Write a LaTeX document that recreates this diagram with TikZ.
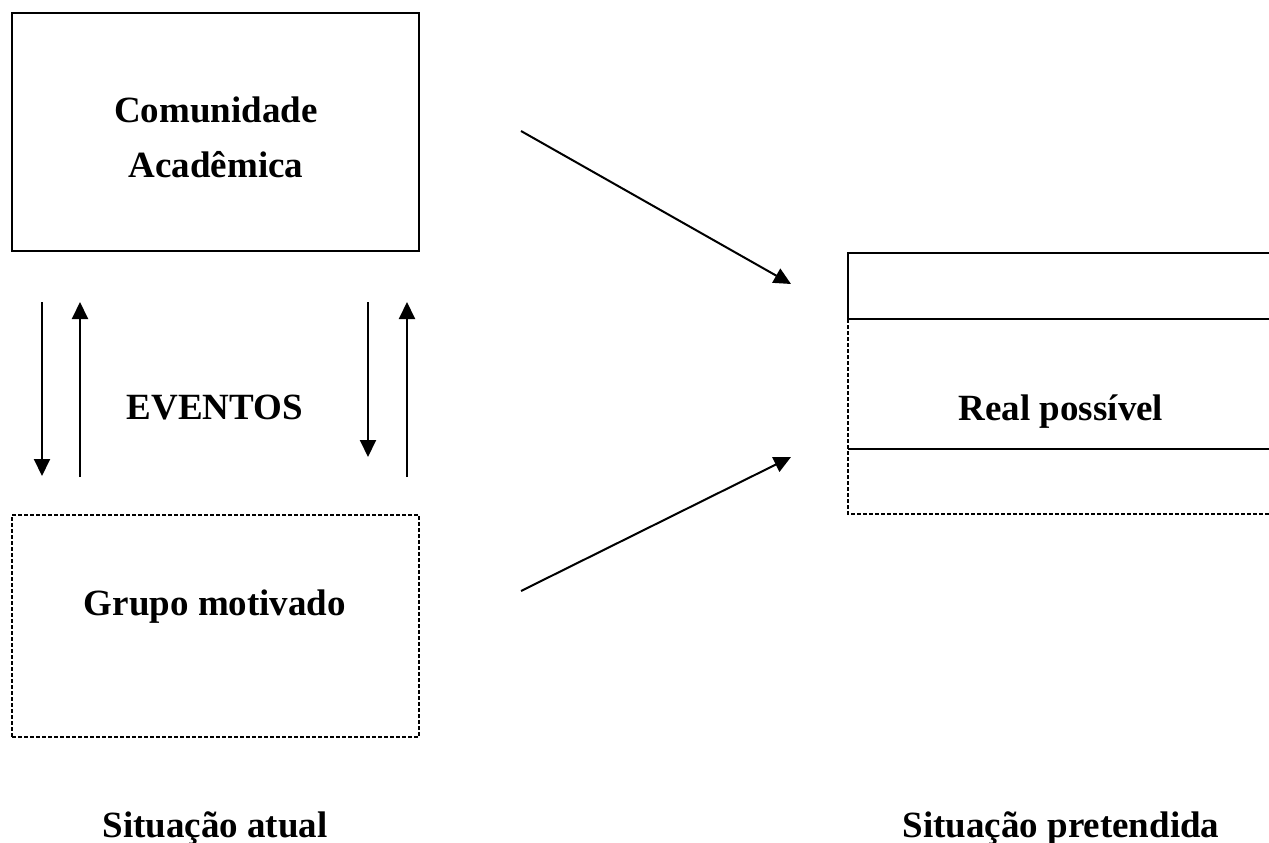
\documentclass[tikz,border=0pt]{standalone}
\usepackage{fontspec}
\setmainfont{Liberation Serif}
\usetikzlibrary{arrows.meta,positioning}

\begin{document}
\begin{tikzpicture}[x=1pt,y=-1pt,
    box/.style={draw=black, line width=1.8pt, minimum width=407pt,
                minimum height=238pt, inner sep=0pt},
    dashbox/.style={box, line width=1.5pt, dash pattern=on 4pt off 2pt,
                    minimum height=222pt},
    solidline/.style={line width=1.8pt},
    dashline/.style={line width=1.5pt, dash pattern=on 4pt off 2pt},
    lbl/.style={font=\fontsize{37}{44}\selectfont\bfseries, anchor=base, inner sep=0pt},
    arrow/.style={-{Triangle[length=17pt,width=16pt]}, line width=2pt},
  ]
    \useasboundingbox (0,0) rectangle (1269,843);
    % left column
    \node[box]     (acad)  at (215.5,132) {};
    \node[dashbox] (grupo) at (215.5,626) {};
    \node[lbl] (acad1)  at (216,122) {Comunidade};
    \node[lbl] (acad2)  at (216,177) {Acadêmica};
    \node[lbl] (grupotxt) at (215,615) {Grupo motivado};
    \node[lbl] (eventos)  at (215,419) {EVENTOS};
    % right box
    \draw[solidline] (1269,253) -- (848,253) -- (848,319) -- (1269,319);
    \draw[solidline] (848,449) -- (1269,449);
    \draw[dashline]  (848,319) -- (848,514) -- (1269,514);
    \node[lbl] (real) at (1061,420) {Real possível};
    % captions
    \node[lbl] (atual)      at (215,837)  {Situação atual};
    \node[lbl] (pretendida) at (1061,837) {Situação pretendida};
    % arrow ends
    \coordinate (d1s) at (42,302);  \coordinate (d1e) at (42,476);
    \coordinate (u1s) at (80,477);  \coordinate (u1e) at (80,302);
    \coordinate (d2s) at (368,302); \coordinate (d2e) at (368,457);
    \coordinate (u2s) at (407,477); \coordinate (u2e) at (407,302);
    \coordinate (c1) at (521,131);  \coordinate (r1) at (791,284);
    \coordinate (c2) at (521,591);  \coordinate (r2) at (791,457);
    \draw[arrow] (d1s) -- (d1e);
    \draw[arrow] (u1s) -- (u1e);
    \draw[arrow] (d2s) -- (d2e);
    \draw[arrow] (u2s) -- (u2e);
    \draw[arrow] (c1) -- (r1);
    \draw[arrow] (c2) -- (r2);
  \end{tikzpicture}
\end{document}
